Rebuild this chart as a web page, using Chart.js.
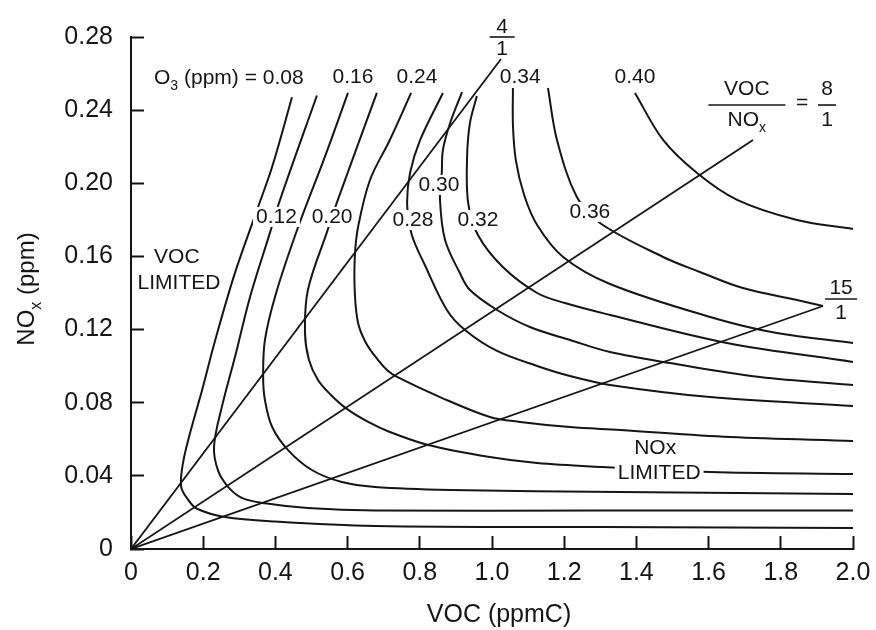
<!DOCTYPE html>
<html>
<head>
<meta charset="utf-8">
<script src="https://cdn.jsdelivr.net/npm/chart.js@4"></script>
<style>
  html, body { margin: 0; padding: 0; background: #fff; }
  #wrap { width: 876px; height: 630px; position: relative; }
</style>
</head>
<body>
<div id="wrap"><canvas id="chart"></canvas></div>
<script>
// tick labels
const xTickLabels = ['0', '0.2', '0.4', '0.6', '0.8', '1.0', '1.2', '1.4', '1.6', '1.8', '2.0'];
const yTickLabels = ['0', '0.04', '0.08', '0.12', '0.16', '0.20', '0.24', '0.28'];

// ozone isopleths, points are [VOC ppmC, NOx ppm]
const o3_008 = [[0.446, 0.247], [0.391, 0.209], [0.352, 0.187], [0.288, 0.151], [0.233, 0.114], [0.197, 0.087], [0.163, 0.063], [0.144, 0.047], [0.139, 0.034], [0.158, 0.027], [0.183, 0.022], [0.260, 0.0175], [0.399, 0.015], [0.676, 0.0126], [1.30, 0.012], [2.0, 0.0115]];
const o3_012 = [[0.515, 0.248], [0.413, 0.191], [0.385, 0.173], [0.330, 0.138], [0.288, 0.105], [0.252, 0.078], [0.230, 0.056], [0.241, 0.043], [0.269, 0.034], [0.307, 0.028], [0.371, 0.025], [0.490, 0.0224], [0.676, 0.021], [1.30, 0.021], [2.0, 0.021]];
const o3_016 = [[0.601, 0.2494], [0.537, 0.2144], [0.463, 0.1761], [0.402, 0.140], [0.371, 0.1143], [0.366, 0.094], [0.371, 0.0815], [0.391, 0.0667], [0.435, 0.0541], [0.501, 0.0432], [0.584, 0.0366], [0.676, 0.0339], [0.884, 0.0323], [1.355, 0.0312], [2.0, 0.0301]];
const o3_020 = [[0.681, 0.2494], [0.573, 0.1909], [0.543, 0.1734], [0.490, 0.1416], [0.482, 0.1181], [0.493, 0.1034], [0.518, 0.0924], [0.551, 0.0848], [0.598, 0.0766], [0.657, 0.0695], [0.717, 0.0640], [0.823, 0.0569], [0.994, 0.0503], [1.125, 0.0470], [1.307, 0.0448], [1.604, 0.0421], [2.0, 0.0410]];
const o3_024 = [[0.776, 0.2494], [0.717, 0.2237], [0.662, 0.2018], [0.629, 0.1761], [0.620, 0.1597], [0.620, 0.140], [0.629, 0.1236], [0.651, 0.1127], [0.684, 0.1034], [0.709, 0.0979], [0.737, 0.0941], [0.856, 0.0831], [0.994, 0.0722], [1.078, 0.0695], [1.216, 0.0667], [1.355, 0.0651], [1.66, 0.0612], [2.0, 0.0591]];
const o3_028 = [[0.864, 0.2494], [0.801, 0.2237], [0.773, 0.2056], [0.765, 0.1881], [0.778, 0.1717], [0.814, 0.1553], [0.875, 0.1307], [0.925, 0.1198], [1.014, 0.1083], [1.125, 0.1001], [1.216, 0.0946], [1.327, 0.0897], [1.604, 0.0831], [2.0, 0.0782]];
const o3_030 = [[0.917, 0.2499], [0.884, 0.2330], [0.864, 0.2182], [0.861, 0.2062], [0.856, 0.1909], [0.870, 0.1690], [0.911, 0.1509], [0.939, 0.1416], [1.014, 0.1307], [1.105, 0.1214], [1.216, 0.1143], [1.327, 0.1077], [1.493, 0.1017], [1.742, 0.0941], [2.0, 0.0897]];
const o3_032 = [[0.958, 0.2477], [0.939, 0.2330], [0.931, 0.2144], [0.934, 0.1892], [0.961, 0.1717], [1.030, 0.1542], [1.125, 0.1400], [1.202, 0.1345], [1.327, 0.1280], [1.651, 0.1127], [2.0, 0.1023]];
const o3_034 = [[1.058, 0.2521], [1.058, 0.2319], [1.066, 0.2127], [1.089, 0.1936], [1.125, 0.1772], [1.197, 0.1597], [1.327, 0.1449], [1.604, 0.1269], [1.789, 0.1181], [2.0, 0.1127]];
const o3_036 = [[1.155, 0.2521], [1.180, 0.2237], [1.235, 0.1925], [1.299, 0.1783], [1.474, 0.1597], [1.576, 0.1515], [1.695, 0.1427], [1.845, 0.1362], [1.917, 0.1329]];
const o3_040 = [[1.396, 0.2494], [1.474, 0.2237], [1.568, 0.2056], [1.679, 0.1909], [1.845, 0.1799], [2.0, 0.1750]];

// VOC/NOx ratio lines from the origin
const ray_4 = [[0, 0], [1.025, 0.268]];
const ray_8 = [[0, 0], [1.723, 0.2237]];
const ray_15 = [[0, 0], [1.917, 0.1329]];

const isopleths = [o3_008, o3_012, o3_016, o3_020, o3_024, o3_028, o3_030, o3_032, o3_034, o3_036, o3_040];
const rays = [ray_4, ray_8, ray_15];

// isopleth value labels [text, VOC, NOx]
const curveLabels = [
    ['0.16', 0.615, 0.2581], ['0.24', 0.792, 0.2581], ['0.34', 1.078, 0.2581], ['0.40', 1.396, 0.2581],
    ['0.12', 0.403, 0.1816], ['0.20', 0.557, 0.1816], ['0.28', 0.781, 0.1799], ['0.30', 0.853, 0.1991],
    ['0.32', 0.961, 0.1799], ['0.36', 1.271, 0.1843]
];
// region labels [text, VOC, NOx]
const regionLabels = [
    ['VOC', 0.127, 0.1597], ['LIMITED', 0.133, 0.1455],
    ['NOx', 1.452, 0.0552], ['LIMITED', 1.463, 0.0416]
];

const ink = '#151515';
const fontFamily = '"Liberation Sans", Arial, Helvetica, sans-serif';

function toPoints(arr) {
    return arr.map(p => ({ x: p[0], y: p[1] }));
}

// draws a run of text pieces, some of them as subscripts, centred on (x, y)
function drawRich(ctx, parts, x, y, size) {
    let total = 0;
    parts.forEach(p => {
        ctx.font = (p.sub ? Math.round(size * 0.65) : size) + 'px ' + fontFamily;
        p.w = ctx.measureText(p.t).width;
        total += p.w;
    });
    let cx = x - total / 2;
    ctx.textAlign = 'left';
    ctx.textBaseline = 'middle';
    parts.forEach(p => {
        ctx.font = (p.sub ? Math.round(size * 0.65) : size) + 'px ' + fontFamily;
        ctx.fillText(p.t, cx, p.sub ? y + size * 0.38 : y);
        cx += p.w;
    });
}

function drawFraction(ctx, top, bottom, x, y, barW, up, down, size) {
    ctx.beginPath();
    ctx.moveTo(x - barW / 2, y);
    ctx.lineTo(x + barW / 2, y);
    ctx.stroke();
    drawRich(ctx, top, x, y - up, size);
    drawRich(ctx, bottom, x, y + down, size);
}

const annotate = {
    id: 'annotate',
    afterDraw(chart) {
        const ctx = chart.ctx;
        const xs = chart.scales.x;
        const ys = chart.scales.y;
        const px = v => xs.getPixelForValue(v);
        const py = v => ys.getPixelForValue(v);
        ctx.save();
        ctx.fillStyle = ink;
        ctx.strokeStyle = ink;
        ctx.lineWidth = 1.6;

        ctx.font = '21px ' + fontFamily;
        curveLabels.concat(regionLabels).forEach(([t, vx, vy]) => {
            const x = px(vx), y = py(vy);
            const w = ctx.measureText(t).width;
            ctx.fillStyle = '#fff';
            ctx.fillRect(x - w / 2 - 3, y - 10, w + 6, 20);
            ctx.fillStyle = ink;
            ctx.textAlign = 'center';
            ctx.textBaseline = 'middle';
            ctx.fillText(t, x, y);
        });

        // "O3 (ppm) = 0.08"
        drawRich(ctx, [{ t: 'O' }, { t: '3', sub: true }, { t: ' (ppm) = 0.08' }], px(0.271), py(0.2576), 21);

        // ratio labels
        drawFraction(ctx, [{ t: '4' }], [{ t: '1' }], px(1.028), py(0.280), 25, 10, 12, 21);
        drawFraction(ctx, [{ t: 'VOC' }], [{ t: 'NO' }, { t: 'x', sub: true }], px(1.706), py(0.2428), 77, 16, 15, 21);
        drawRich(ctx, [{ t: '=' }], px(1.859), py(0.2439), 21);
        drawFraction(ctx, [{ t: '8' }], [{ t: '1' }], px(1.928), py(0.2428), 18, 16, 15, 21);
        drawFraction(ctx, [{ t: '15' }], [{ t: '1' }], px(1.967), py(0.1367), 32, 11, 14, 21);

        // axis titles
        drawRich(ctx, [{ t: 'VOC (ppmC)' }], 499, 615, 25);
        ctx.translate(27, 289);
        ctx.rotate(-Math.PI / 2);
        drawRich(ctx, [{ t: 'NO' }, { t: 'x', sub: true }, { t: ' (ppm)' }], 0, 0, 24);
        ctx.restore();
    }
};

const datasets = [];
isopleths.forEach(curve => {
    datasets.push({
        data: toPoints(curve),
        showLine: true,
        borderColor: ink,
        borderWidth: 2,
        pointRadius: 0,
        tension: 0.35,
        fill: false
    });
});
rays.forEach(line => {
    datasets.push({
        data: toPoints(line),
        showLine: true,
        borderColor: ink,
        borderWidth: 1.8,
        pointRadius: 0,
        tension: 0,
        fill: false
    });
});

new Chart(document.getElementById('chart'), {
    type: 'scatter',
    data: { datasets: datasets },
    options: {
        responsive: true,
        maintainAspectRatio: false,
        animation: false,
        layout: { padding: { top: 37, right: 23, left: 0, bottom: 0 } },
        plugins: {
            legend: { display: false },
            tooltip: { enabled: false }
        },
        scales: {
            x: {
                type: 'linear',
                min: 0,
                max: 2,
                afterFit: function (scale) {
                    scale.height = 81;
                    scale.paddingLeft = 0;
                    scale.paddingRight = 0;
                },
                ticks: {
                    stepSize: 0.2,
                    autoSkip: false,
                    maxRotation: 0,
                    padding: 22,
                    color: ink,
                    font: { size: 25, family: fontFamily },
                    callback: function (value, index) { return xTickLabels[index]; }
                },
                grid: { drawOnChartArea: false, tickLength: -13, tickWidth: 2, color: ink },
                border: { color: ink, width: 2 }
            },
            y: {
                type: 'linear',
                min: 0,
                max: 0.28,
                afterFit: function (scale) {
                    scale.width = 131;
                    scale.paddingTop = 0;
                    scale.paddingBottom = 0;
                },
                ticks: {
                    stepSize: 0.04,
                    autoSkip: false,
                    padding: 31,
                    color: ink,
                    font: { size: 25, family: fontFamily },
                    callback: function (value, index) { return yTickLabels[index]; }
                },
                grid: { drawOnChartArea: false, tickLength: -13, tickWidth: 2, color: ink },
                border: { color: ink, width: 2 }
            }
        }
    },
    plugins: [annotate]
});
</script>
</body>
</html>
